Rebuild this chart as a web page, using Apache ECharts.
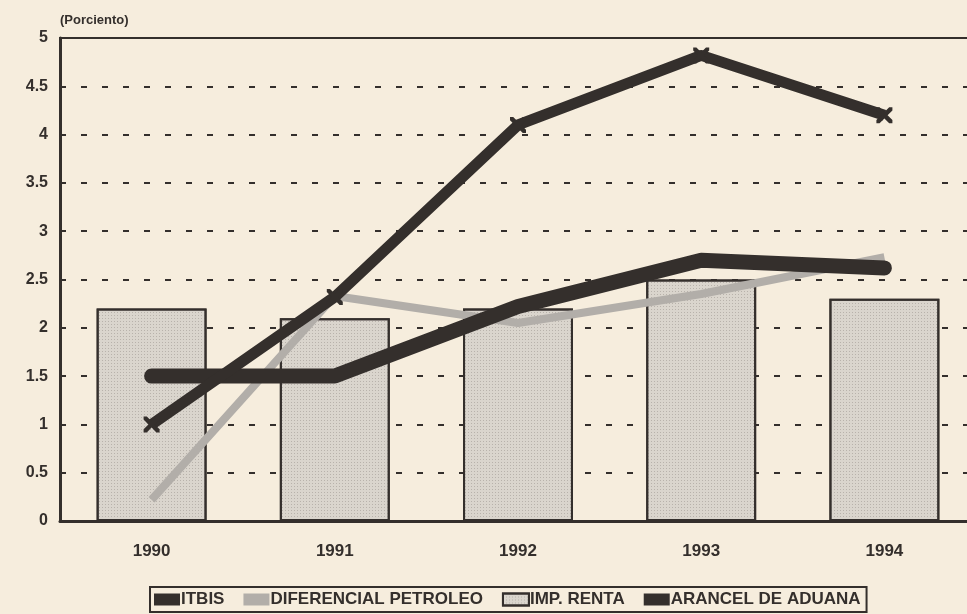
<!DOCTYPE html>
<html>
<head>
<meta charset="utf-8">
<script src="https://cdn.jsdelivr.net/npm/echarts@6/dist/echarts.min.js"></script>
<style>
    html, body { margin: 0; padding: 0; background: #f6eddd; overflow: hidden; }
    #chart { width: 967px; height: 614px; }
</style>
</head>
<body>
<div id="chart"></div>
<script>
// datos
const years = ["1990", "1991", "1992", "1993", "1994"];
const itbis = [1.5, 1.5, 2.22, 2.7, 2.62];
const diferencialPetroleo = [0.22, 2.33, 2.05, 2.35, 2.73];
const impRenta = [2.2, 2.1, 2.2, 2.5, 2.3];
const arancelAduana = [1.0, 2.32, 4.1, 4.82, 4.2];
const yTicks = [0, 0.5, 1, 1.5, 2, 2.5, 3, 3.5, 4, 4.5, 5];

const ink = "#342f2c";
const crossPath = "path://M0,0 L2,0 L5,3 L8,0 L10,0 L10,2 L7,5 L10,8 L10,10 L8,10 L5,7 L2,10 L0,10 L0,8 L3,5 L0,2 Z";

const chart = echarts.init(document.getElementById("chart"));

chart.setOption({
    backgroundColor: "#f6eddd",
    animation: false,
    textStyle: { fontFamily: "Liberation Sans, Arial, sans-serif" },
    graphic: [{
        type: "text",
        left: 60,
        top: 14,
        style: {
            text: "(Porciento)",
            font: "bold 13px Liberation Sans, Arial",
            fill: ink
        }
    }],
    legend: {
        left: 150,
        bottom: 2,
        width: 718,
        itemGap: 19,
        itemWidth: 26,
        itemHeight: 12,
        padding: [4, 6, 4, 4],
        borderColor: ink,
        borderWidth: 2,
        textStyle: {
            color: ink,
            fontWeight: "bold",
            fontSize: 17,
            padding: [0, 0, 0, -4]
        },
        data: [
            { name: "ITBIS", icon: "rect" },
            { name: "DIFERENCIAL PETROLEO", icon: "rect" },
            { name: "IMP. RENTA", icon: "rect" },
            { name: "ARANCEL DE ADUANA", icon: "rect" }
        ]
    },
    grid: {
        left: 60,
        width: 916,
        top: 38,
        bottom: 93,
        outerBoundsMode: "none",
        show: true,
        borderColor: ink,
        borderWidth: 2
    },
    xAxis: {
        type: "category",
        data: years,
        axisLine: { lineStyle: { color: ink, width: 3 } },
        axisTick: { show: false },
        axisLabel: {
            color: ink,
            fontWeight: "bold",
            fontSize: 17,
            margin: 22
        }
    },
    yAxis: {
        type: "value",
        min: 0,
        max: 5,
        interval: 0.5,
        axisLine: { show: true, lineStyle: { color: ink, width: 3 } },
        axisTick: { show: false },
        axisLabel: {
            color: ink,
            fontWeight: "bold",
            fontSize: 16,
            margin: 12,
            formatter: function (v) {
                return yTicks.indexOf(v) > -1 ? String(v) : "";
            }
        },
        splitLine: {
            lineStyle: {
                color: ink,
                width: 2,
                type: [6, 15]
            }
        }
    },
    series: [
        {
            name: "IMP. RENTA",
            type: "bar",
            data: impRenta,
            barWidth: "60%",
            z: 1,
            itemStyle: {
                color: "#dad5cd",
                borderColor: ink,
                borderWidth: 2,
                decal: {
                    symbol: "rect",
                    symbolSize: 1,
                    dashArrayX: [1, 2],
                    dashArrayY: [1, 2],
                    color: "rgba(120,115,110,0.35)"
                }
            }
        },
        {
            name: "DIFERENCIAL PETROLEO",
            type: "line",
            data: diferencialPetroleo,
            symbol: "none",
            z: 2,
            itemStyle: { color: "#b2aea9" },
            lineStyle: { color: "#b2aea9", width: 8 }
        },
        {
            name: "ITBIS",
            type: "line",
            data: itbis,
            symbol: "none",
            z: 3,
            itemStyle: { color: ink },
            lineStyle: { color: ink, width: 15, cap: "round", join: "round" }
        },
        {
            name: "ARANCEL DE ADUANA",
            type: "line",
            data: arancelAduana,
            symbol: crossPath,
            symbolSize: 16,
            z: 4,
            itemStyle: { color: ink },
            lineStyle: { color: ink, width: 11, join: "round" }
        }
    ]
});
</script>
</body>
</html>
